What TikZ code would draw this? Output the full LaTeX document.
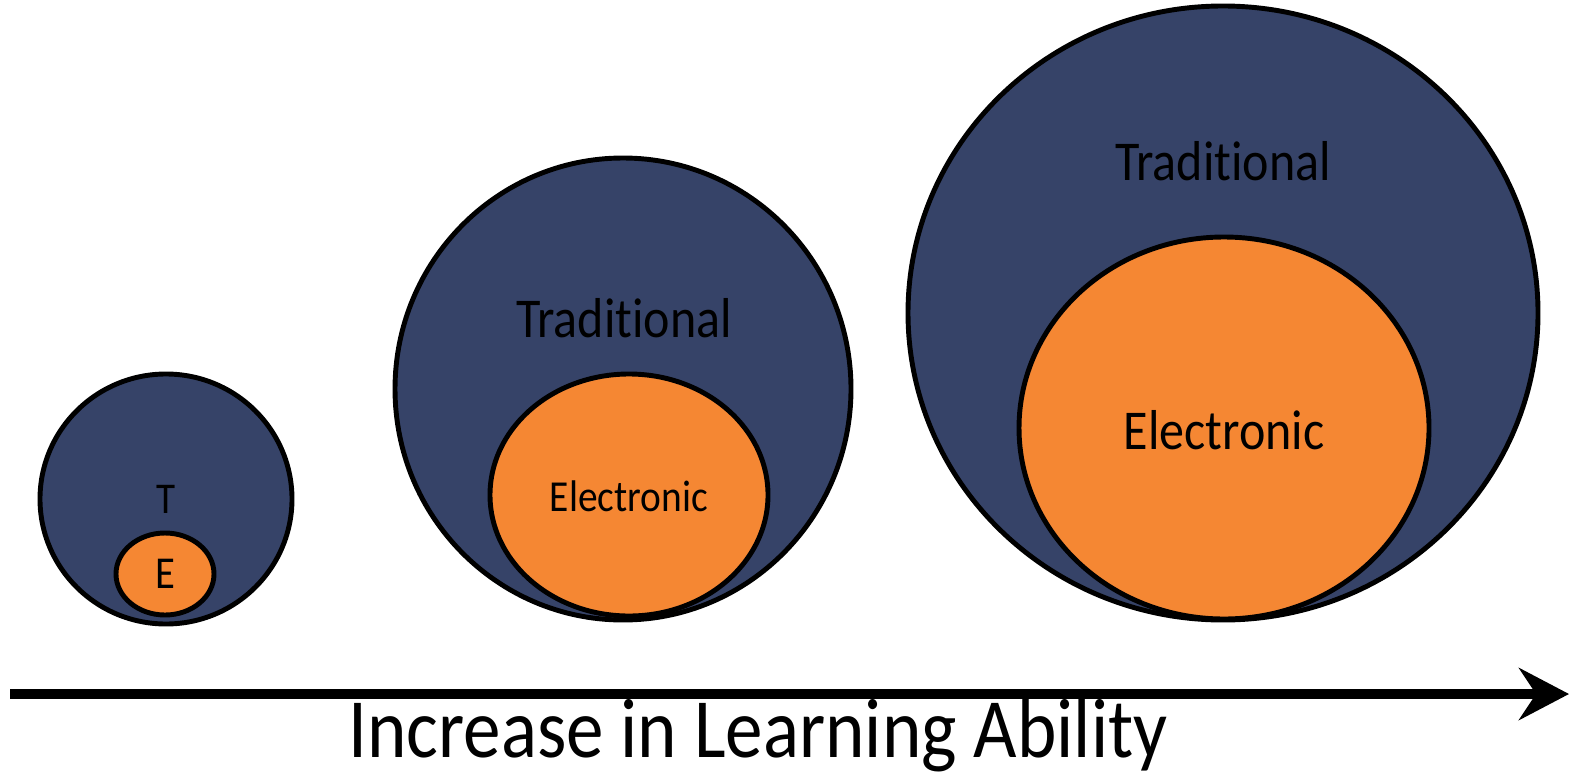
\documentclass[tikz,border=0pt]{standalone}
\usepackage{fontspec}
\setmainfont{Carlito}[FakeStretch=0.89, Ligatures={NoCommon,NoContextual}]
\usetikzlibrary{shapes.geometric, arrows.meta, positioning}
\definecolor{navy}{RGB}{54,67,104}
\definecolor{amber}{RGB}{245,135,51}
\tikzset{
  trad/.style={ellipse, draw=black, line width=1.4pt, fill=navy, inner sep=0pt},
  elec/.style={ellipse, draw=black, line width=1.4pt, fill=amber, inner sep=0pt},
  axis/.style={-{Stealth[length=0.5cm, width=0.52cm, inset=0.17cm]}, line width=2.6pt},
}

\begin{document}
\begin{tikzpicture}
        \useasboundingbox (0,0) rectangle (15.77,7.73);

        % Small pair
        \node[trad, minimum width=2.52cm, minimum height=2.50cm] (ts) at (1.66,2.74) {};
        \node[elec, minimum width=0.98cm, minimum height=0.82cm] (es) at (1.65,1.99) {};
        \node[font=\fontsize{12.5}{14}\selectfont] (tslab) at (1.66,2.74) {T};
        \node[font=\fontsize{13}{15}\selectfont] (eslab) at (es) {E};

        % Medium pair
        \node[trad, minimum width=4.56cm, minimum height=4.62cm] (tm) at (6.23,3.84) {};
        \node[elec, minimum width=2.78cm, minimum height=2.42cm] (em) at (6.29,2.78) {};
        \node[font=\fontsize{16}{19}\selectfont] (tmlab) at (6.24,4.55) {Traditional};
        \node[font=\fontsize{12.6}{15}\selectfont] (emlab) at (6.29,2.77) {Electronic};

        % Large pair
        \node[trad, minimum width=6.30cm, minimum height=6.14cm] (tl) at (12.23,4.60) {};
        \node[elec, minimum width=4.10cm, minimum height=3.82cm] (el) at (12.24,3.45) {};
        \node[font=\fontsize{16}{19}\selectfont] (tllab) at (12.23,6.12) {Traditional};
        \node[font=\fontsize{16}{19}\selectfont] (ellab) at (12.24,3.43) {Electronic};

        % Axis
        \coordinate (axstart) at (0.10,0.79);
        \coordinate (axend) at (15.69,0.79);
        \draw[axis] (axstart) -- (axend);
        \node[font=\fontsize{24}{28}\selectfont, anchor=base] (axlab) at (7.58,0.16)
              {Increase in Learning Ability};
      \end{tikzpicture}
\end{document}
